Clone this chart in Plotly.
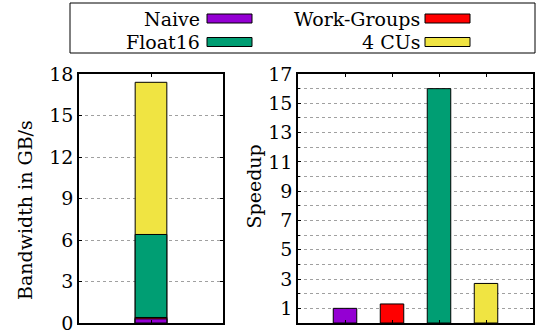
import plotly.graph_objects as go

# Optimisation steps and their measurements
steps = ["Naive", "Work-Groups", "Float16", "4 CUs"]
colors = ["#9400D3", "#FF0000", "#009E73", "#F0E442"]
bandwidth_gbs = [0.3, 0.4, 6.4, 17.4]   # absolute bandwidth per step
speedup = [1.0, 1.3, 16.0, 2.7]         # speedup over the previous step

W, H = 536, 332
FONT = "DejaVu Serif"
FS = 19


def px_x(p):
    return p / W


def px_y(p):
    return 1 - p / H


fig = go.Figure()

# Left panel: bandwidth bars overlaid on one column, tallest drawn first
for name, col, bw in sorted(zip(steps, colors, bandwidth_gbs), key=lambda t: -t[2]):
    fig.add_trace(go.Bar(
        x=[1], y=[bw], name=name, width=0.44,
        marker=dict(color=col, line=dict(color="black", width=1)),
        xaxis="x", yaxis="y", showlegend=False,
    ))

# Right panel: speedup per step
fig.add_trace(go.Bar(
    x=[1, 2, 3, 4], y=speedup, width=0.5,
    marker=dict(color=colors, line=dict(color="black", width=1)),
    xaxis="x2", yaxis="y2", showlegend=False,
))

axis_common = dict(
    showline=True, linecolor="black", linewidth=1.5, mirror="ticks",
    ticks="inside", ticklen=3, tickcolor="black", zeroline=False,
    tickfont=dict(family=FONT, size=FS, color="black"),
    ticklabeloverflow="allow", automargin=False,
)
grid = dict(showgrid=True, gridcolor="#a0a0a0", gridwidth=1, griddash="dot")

y_dom = [px_y(323), px_y(74)]

fig.update_layout(
    width=W, height=H, margin=dict(l=0, r=0, t=0, b=0),
    plot_bgcolor="white", paper_bgcolor="white",
    barmode="overlay", showlegend=False,
    font=dict(family=FONT, size=FS, color="black"),
    xaxis=dict(domain=[px_x(79), px_x(223)], range=[0, 2], tickvals=[1],
               showticklabels=False, showgrid=False, **axis_common),
    yaxis=dict(domain=y_dom, range=[0, 18], tick0=0, dtick=3,
               ticklabelstandoff=0, **grid, **axis_common),
    xaxis2=dict(domain=[px_x(298), px_x(533)], range=[0, 5],
                tickvals=[1, 2, 3, 4], showticklabels=False, showgrid=False,
                anchor="y2", **axis_common),
    yaxis2=dict(domain=y_dom, range=[0, 17], tick0=1, dtick=2,
                ticklabelstandoff=0, anchor="x2",
                minor=dict(dtick=1, tick0=0, showgrid=True, gridcolor="#a0a0a0",
                           griddash="dot", ticks="inside", ticklen=2),
                **grid, **axis_common),
)

annotations = []
# Axis titles
for text, xc, yc in [("Bandwidth in GB/s", 24.5, 210.5), ("Speedup", 253, 186.5)]:
    annotations.append(dict(
        text=text, xref="paper", yref="paper", x=px_x(xc), y=px_y(yc),
        xanchor="center", yanchor="middle", textangle=-90, showarrow=False,
        font=dict(family=FONT, size=FS, color="black"),
    ))

# Legend: boxed, two columns, label to the left of each swatch
shapes = [dict(type="rect", xref="paper", yref="paper",
               x0=px_x(70), x1=px_x(535), y0=px_y(53), y1=px_y(3),
               line=dict(color="black", width=1), fillcolor="rgba(0,0,0,0)")]
text_right = [202, 422]
swatch_x = [(207, 252), (425, 470)]
row_y = [18.5, 42]
for i, (name, col) in enumerate(zip(steps, colors)):
    # Naive, Work-Groups on the first row; Float16, 4 CUs on the second
    c = i % 2
    r = i // 2
    annotations.append(dict(
        text=name, xref="paper", yref="paper", x=px_x(text_right[c]),
        y=px_y(row_y[r]), xanchor="right", yanchor="middle", showarrow=False,
        font=dict(family=FONT, size=FS, color="black"),
    ))
    shapes.append(dict(
        type="rect", xref="paper", yref="paper",
        x0=px_x(swatch_x[c][0]), x1=px_x(swatch_x[c][1]),
        y0=px_y(row_y[r] + 4.5), y1=px_y(row_y[r] - 4.5),
        fillcolor=col, line=dict(color="black", width=1),
    ))

fig.update_layout(shapes=shapes, annotations=annotations)

fig.write_html("out.html")
